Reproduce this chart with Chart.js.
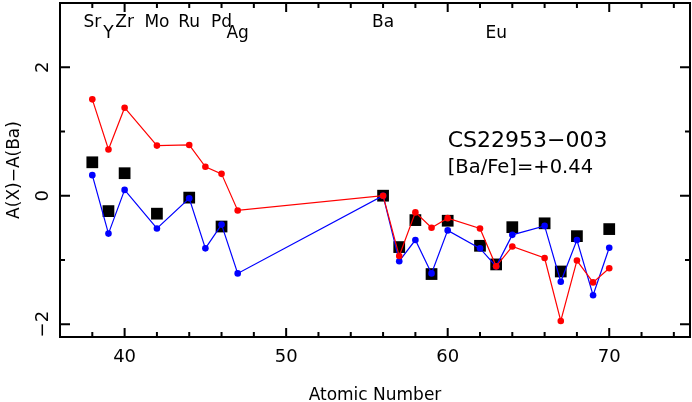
<!DOCTYPE html>
<html>
<head>
<meta charset="utf-8">
<script src="https://cdn.jsdelivr.net/npm/chart.js@4"></script>
<style>
  body { margin: 0; background: #fff; }
  canvas { display: block; }
</style>
</head>
<body>
<canvas id="chart" width="692" height="402"></canvas>
<script>
// observed abundances (black squares)
const obsZ = [38, 39, 40, 42, 44, 46, 56, 57, 58, 59, 60, 62, 63, 64, 66, 67, 68, 70];
const obsVals = [0.52, -0.24, 0.35, -0.28, -0.03, -0.48, 0.0, -0.80, -0.38, -1.22, -0.39, -0.78, -1.07, -0.49, -0.43, -1.18, -0.63, -0.52];

// scaled pattern curves (red and blue), same elements
const curveZ = [38, 39, 40, 42, 44, 45, 46, 47, 56, 57, 58, 59, 60, 62, 63, 64, 66, 67, 68, 69, 70];
const redVals = [1.50, 0.72, 1.37, 0.78, 0.79, 0.45, 0.34, -0.23, 0.0, -0.94, -0.26, -0.50, -0.35, -0.51, -1.10, -0.79, -0.97, -1.95, -1.01, -1.35, -1.13];
const blueVals = [0.32, -0.59, 0.09, -0.51, -0.04, -0.82, -0.45, -1.21, 0.0, -1.02, -0.69, -1.21, -0.54, -0.82, -1.10, -0.61, -0.47, -1.34, -0.69, -1.55, -0.81];

// element names along the top
const elemNames = ['Sr', 'Y', 'Zr', 'Mo', 'Ru', 'Pd', 'Ag', 'Ba', 'Eu'];
const elemZ = [38, 39, 40, 42, 44, 46, 47, 56, 63];
const lowRow = ['Y', 'Ag', 'Eu'];

const starName = 'CS22953\u2212003';
const baFe = '[Ba/Fe]=+0.44';

const FONT = "'DejaVu Sans', sans-serif";

const toPts = (xs, ys) => xs.map((x, i) => ({ x: x, y: ys[i] }));

// fixed axis box sizes, no extra label padding around the plot
const fixBox = size => s => {
  if (s.isHorizontal()) s.height = size; else s.width = size;
  s.paddingTop = 0; s.paddingBottom = 0;
  s.paddingLeft = 0; s.paddingRight = 0;
};

// frame, inward ticks and the text labels
const framePlugin = {
  id: 'frame',
  afterDraw(chart) {
    const { ctx, chartArea: a, scales } = chart;
    const xs = scales.x, ys = scales.y;
    ctx.save();
    ctx.strokeStyle = '#000';
    ctx.lineWidth = 2;
    ctx.strokeRect(a.left, a.top, a.right - a.left, a.bottom - a.top);

    ctx.beginPath();
    xs.ticks.forEach(t => {
      const px = xs.getPixelForValue(t.value);
      const len = t.value % 10 === 0 ? 9 : 5;
      ctx.moveTo(px, a.bottom); ctx.lineTo(px, a.bottom - len);
      ctx.moveTo(px, a.top); ctx.lineTo(px, a.top + len);
    });
    ys.ticks.forEach(t => {
      const py = ys.getPixelForValue(t.value);
      const len = t.value % 2 === 0 ? 10 : 5;
      ctx.moveTo(a.left, py); ctx.lineTo(a.left + len, py);
      ctx.moveTo(a.right, py); ctx.lineTo(a.right - len, py);
    });
    ctx.stroke();

    ctx.fillStyle = '#000';
    ctx.textBaseline = 'alphabetic';
    ctx.textAlign = 'center';
    ctx.font = '17px ' + FONT;
    elemNames.forEach((name, i) => {
      const px = xs.getPixelForValue(elemZ[i]);
      const py = ys.getPixelForValue(lowRow.includes(name) ? 2.45 : 2.62);
      ctx.fillText(name, px, py);
    });

    ctx.textAlign = 'left';
    ctx.font = '22px ' + FONT;
    ctx.fillText(starName, xs.getPixelForValue(60), ys.getPixelForValue(0.76));
    ctx.font = '19.5px ' + FONT;
    ctx.fillText(baFe, xs.getPixelForValue(60), ys.getPixelForValue(0.36));
    ctx.restore();
  }
};

new Chart(document.getElementById('chart'), {
  type: 'scatter',
  data: {
    datasets: [
      {
        label: 'red',
        data: toPts(curveZ, redVals),
        showLine: true,
        borderColor: '#ff0000',
        backgroundColor: '#ff0000',
        borderWidth: 1.2,
        pointRadius: 3.3,
        pointBorderWidth: 0,
        order: 1,
      },
      {
        label: 'blue',
        data: toPts(curveZ, blueVals),
        showLine: true,
        borderColor: '#0000ff',
        backgroundColor: '#0000ff',
        borderWidth: 1.2,
        pointRadius: 3.3,
        pointBorderWidth: 0,
        order: 2,
      },
      {
        label: 'observed',
        data: toPts(obsZ, obsVals),
        pointStyle: 'rect',
        backgroundColor: '#000',
        borderColor: '#000',
        pointRadius: 8.3,
        pointBorderWidth: 0,
        order: 3,
      },
    ],
  },
  options: {
    responsive: false,
    animation: false,
    layout: { autoPadding: false, padding: { top: 3, right: 2, left: 0, bottom: 0 } },
    plugins: {
      legend: { display: false },
      tooltip: { enabled: false },
    },
    scales: {
      x: {
        type: 'linear',
        min: 36,
        max: 75,
        grid: { display: false, drawTicks: false, tickLength: 0 },
        border: { display: false },
        ticks: {
          stepSize: 2,
          includeBounds: false,
          padding: 10,
          color: '#000',
          font: { family: FONT, size: 18 },
          maxRotation: 0,
          autoSkip: false,
          callback: v => (v % 10 === 0 ? String(v) : ''),
        },
        title: {
          display: true,
          text: 'Atomic Number',
          color: '#000',
          font: { family: FONT, size: 17, lineHeight: 0.75 },
          padding: { top: 0, bottom: 0 },
        },
        afterFit: fixBox(65),
      },
      y: {
        type: 'linear',
        min: -2.2,
        max: 3,
        grid: { display: false, drawTicks: false, tickLength: 0 },
        border: { display: false },
        ticks: {
          stepSize: 1,
          includeBounds: false,
          padding: 3,
          minRotation: 90,
          maxRotation: 90,
          crossAlign: 'center',
          color: '#000',
          font: { family: FONT, size: 18 },
          autoSkip: false,
          callback: v => (v % 2 === 0 ? String(v).replace('-', '\u2212') : ''),
        },
        title: {
          display: true,
          text: 'A(X)\u2212A(Ba)',
          color: '#000',
          font: { family: FONT, size: 17 },
          padding: { top: 4, bottom: 0 },
        },
        afterFit: fixBox(60),
      },
    },
  },
  plugins: [framePlugin],
});
</script>
</body>
</html>
